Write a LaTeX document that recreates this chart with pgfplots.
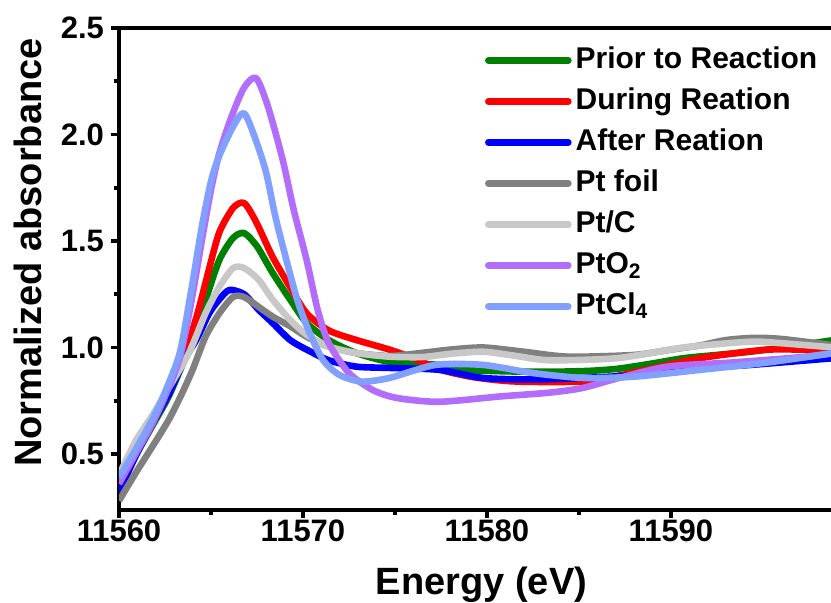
\documentclass[border=0pt]{standalone}
\usepackage{fontspec}
\setmainfont{Liberation Sans}
\usepackage{pgfplots}
\pgfplotsset{compat=1.18}
\definecolor{cGreen}{RGB}{0,128,0}
\definecolor{cRed}{RGB}{255,0,0}
\definecolor{cBlue}{RGB}{0,0,255}
\definecolor{cFoil}{RGB}{128,128,128}
\definecolor{cPtC}{RGB}{200,200,200}
\definecolor{cPtO}{RGB}{178,110,250}
\definecolor{cPtCl}{RGB}{130,160,255}
\begin{document}
\begin{tikzpicture}
\begin{axis}[name=ax, scale only axis, width=357.5pt, height=241pt,
  xmin=11560, xmax=11598.86, ymin=0.237, ymax=2.5,
  scaled x ticks=false, scaled y ticks=false,
  xtick={11560,11570,11580,11590}, xticklabels={11560,11570,11580,11590},
  ytick={0.5,1.0,1.5,2.0,2.5}, yticklabels={0.5,1.0,1.5,2.0,2.5},
  minor x tick num=1, minor y tick num=1,
  xtick pos=bottom, ytick pos=left, tick align=outside,
  major tick length=4pt, minor tick length=2.5pt,
  every tick/.style={black, line width=1.8pt},
  axis line style={line width=2pt},
  ticklabel style={font=\bfseries\fontsize{15.5}{16}\selectfont},
  xticklabel style={yshift=2.5pt},
  xlabel={Energy (eV)}, ylabel={Normalized absorbance},
  every axis y label/.style={at={(axis description cs:-0.128,0.534)}, rotate=90, anchor=center,
    font=\bfseries\fontsize{19}{20}\selectfont},
  every axis x label/.style={at={(axis description cs:0.507,-0.155)}, anchor=center,
    font=\bfseries\fontsize{19}{20}\selectfont},
  legend cell align=left,
  legend image code/.code={\draw[#1, sharp plot, line cap=round] (0pt,0pt) -- (40pt,0pt);},
  legend style={draw=none, fill=none, at={(axis description cs:0.503,0.975)}, anchor=north west,
    font=\bfseries\fontsize{15}{15}\selectfont, row sep=4.5pt,
    nodes={inner xsep=2pt, inner ysep=1pt, text height=11pt, text depth=3pt}},
  every axis plot/.append style={line width=3.3pt, line join=round, smooth, tension=0.45},
]
\addplot[cGreen] coordinates {
(11560,0.33) (11560.9,0.49) (11561.8,0.63) (11562.7,0.77) (11563.6,0.95) (11564.0,1.03)
(11564.7,1.22) (11565.45,1.41) (11566.2,1.514) (11566.8,1.537) (11567.5,1.475) (11568.35,1.35)
(11569.3,1.225) (11570.2,1.115) (11571.4,1.035) (11572.9,0.974) (11574.7,0.933) (11577.4,0.918)
(11578.9,0.895) (11581,0.888) (11583.4,0.886) (11585.5,0.89) (11587.1,0.90) (11589,0.925)
(11590.7,0.95) (11592.5,0.965) (11594.3,0.98) (11596.5,1.005) (11598.86,1.035)};
\addlegendentry{Prior to Reaction}
\addplot[cRed] coordinates {
(11560,0.34) (11560.9,0.505) (11561.8,0.645) (11562.7,0.787) (11563.6,0.974) (11564.3,1.17)
(11564.9,1.37) (11565.45,1.54) (11566.2,1.655) (11566.8,1.678) (11567.45,1.59) (11568.35,1.425)
(11569.3,1.284) (11570.2,1.16) (11571.4,1.08) (11572.9,1.035) (11574.7,0.99) (11576,0.95)
(11577.5,0.895) (11579.3,0.86) (11581.6,0.84) (11585.2,0.84) (11587,0.865) (11588.9,0.90)
(11591.6,0.95) (11595.3,0.99) (11598.86,0.985)};
\addlegendentry{During Reation}
\addplot[cBlue] coordinates {
(11560,0.32) (11560.9,0.49) (11561.8,0.64) (11562.7,0.78) (11563.6,0.95) (11564.2,1.035)
(11564.9,1.16) (11565.45,1.225) (11566.0,1.27) (11566.8,1.25) (11567.6,1.176) (11568.35,1.115)
(11569.3,1.035) (11570.2,0.99) (11571.4,0.94) (11572.9,0.91) (11574.7,0.904) (11577.4,0.895)
(11579.8,0.857) (11582.5,0.85) (11585.2,0.857) (11588,0.87) (11591.6,0.904) (11594.3,0.918)
(11598.86,0.95)};
\addlegendentry{After Reation}
\addplot[cFoil] coordinates {
(11560,0.28) (11560.9,0.41) (11561.8,0.533) (11562.7,0.66) (11563.4,0.78) (11564,0.895)
(11564.7,1.05) (11565.45,1.16) (11566.2,1.237) (11566.8,1.237) (11567.6,1.19) (11568.35,1.145)
(11569.3,1.10) (11570.2,1.05) (11571.4,1.004) (11572.9,0.974) (11574.7,0.96) (11576.5,0.975)
(11578,0.99) (11579.8,1.0) (11582,0.98) (11584.4,0.957) (11588,0.965) (11590,0.99)
(11591.6,1.01) (11593,1.035) (11594.5,1.045) (11596,1.04) (11598.86,1.01)};
\addlegendentry{Pt foil}
\addplot[cPtC] coordinates {
(11560,0.40) (11560.9,0.56) (11561.8,0.68) (11562.7,0.81) (11563.8,0.974) (11564.7,1.16)
(11565.45,1.284) (11566.2,1.373) (11566.8,1.373) (11567.6,1.317) (11568.35,1.225) (11569.3,1.13)
(11570.2,1.06) (11571.4,1.004) (11572.9,0.974) (11574.7,0.957) (11576.5,0.955) (11578,0.97)
(11579.8,0.98) (11581.6,0.96) (11583.4,0.94) (11587.1,0.95) (11590.7,1.0) (11594.3,1.027)
(11596,1.02) (11598.86,1.0)};
\addlegendentry{Pt/C}
\addplot[cPtO] coordinates {
(11560,0.36) (11560.9,0.50) (11561.8,0.64) (11562.5,0.77) (11563.3,0.95) (11563.9,1.20)
(11564.5,1.50) (11565.0,1.74) (11565.45,1.91) (11566.1,2.08) (11566.8,2.22) (11567.45,2.265)
(11568.1,2.13) (11568.9,1.88) (11569.5,1.645) (11570.2,1.41) (11570.8,1.176) (11571.4,1.02)
(11572.5,0.88) (11573.8,0.80) (11575.1,0.763) (11577.4,0.745) (11580.7,0.77) (11583.4,0.788)
(11585.2,0.81) (11587.1,0.855) (11589.8,0.91) (11593.4,0.93) (11597.1,0.955) (11598.86,0.974)};
\addlegendentry{PtO\textsubscript{2}}
\addplot[cPtCl] coordinates {
(11560,0.39) (11560.9,0.52) (11561.8,0.66) (11562.5,0.79) (11563.3,0.974) (11563.9,1.255)
(11564.5,1.566) (11565.0,1.78) (11565.45,1.9) (11566.2,2.037) (11566.8,2.10) (11567.45,1.97)
(11568,1.82) (11568.5,1.614) (11569.1,1.41) (11569.7,1.22) (11570.35,1.07) (11571.1,0.94)
(11572,0.87) (11573.2,0.84) (11574.7,0.857) (11577.2,0.918) (11579.8,0.918) (11582.5,0.88)
(11585.2,0.857) (11588,0.863) (11591.6,0.895) (11595.3,0.93) (11598.86,0.974)};
\addlegendentry{PtCl\textsubscript{4}}
\end{axis}
\pgfresetboundingbox
\path[use as bounding box] ([xshift=-59.5pt, yshift=14pt]ax.north west) rectangle ([xshift=-1.5pt, yshift=-46.5pt]ax.south east);
\end{tikzpicture}
\end{document}
